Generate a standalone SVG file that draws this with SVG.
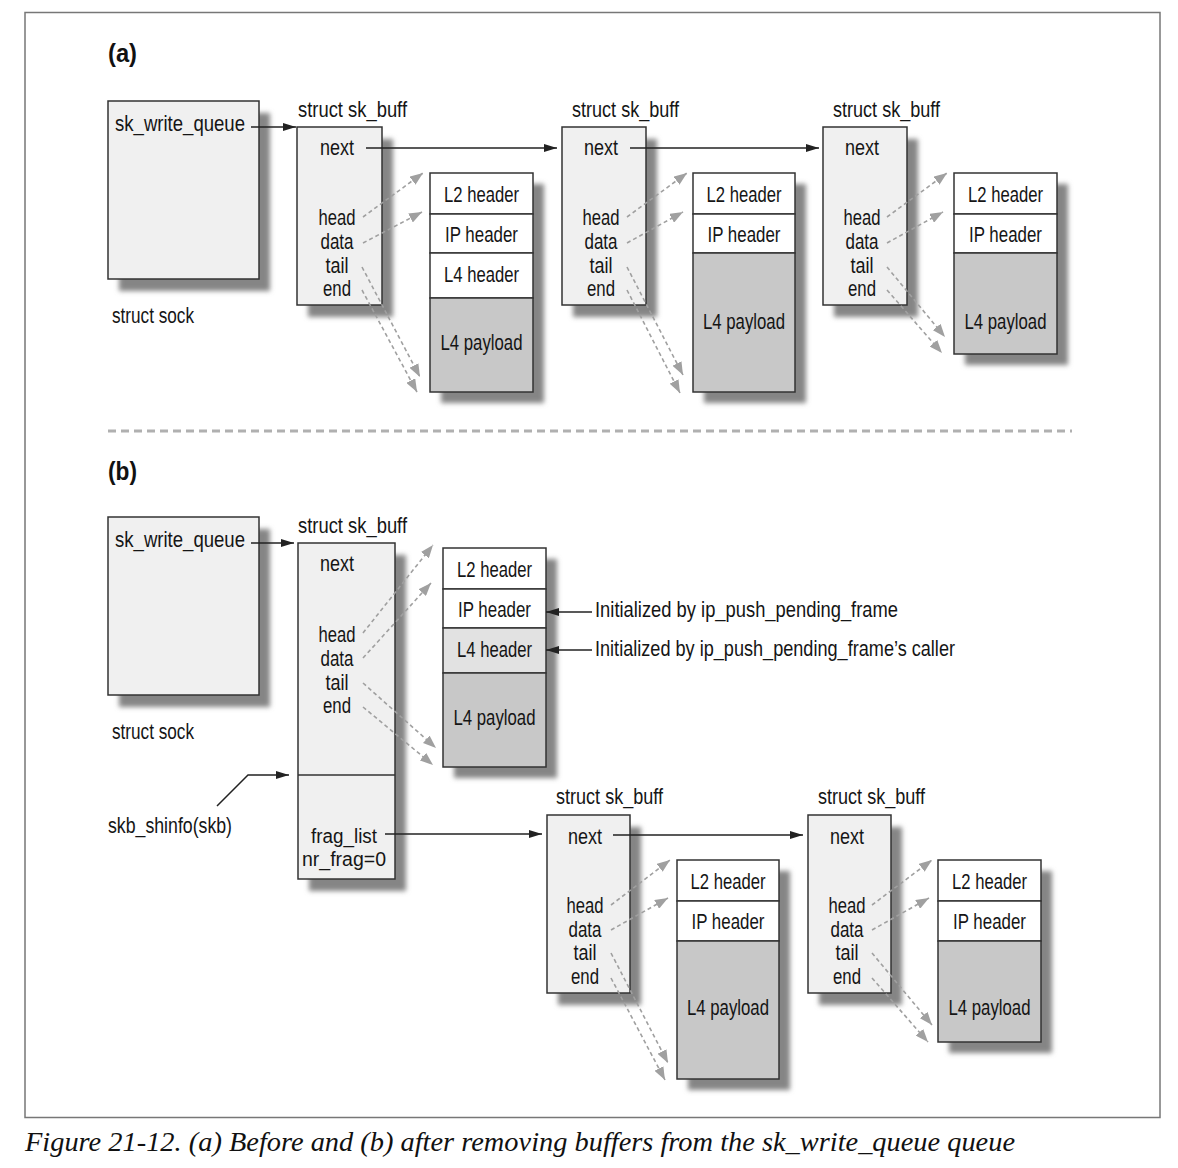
<svg xmlns="http://www.w3.org/2000/svg" width="1178" height="1168" viewBox="0 0 1178 1168">
<defs>
<style>
.t{font-family:"Liberation Sans",Arial,sans-serif;font-size:22.5px;fill:#151515;text-anchor:middle}
.l{font-family:"Liberation Sans",Arial,sans-serif;font-size:22.5px;fill:#151515;text-anchor:start}
.s{font-size:20px}
.box{fill:#f0f0f0;stroke:#333;stroke-width:1.5}
.cell{fill:#fff;stroke:#333;stroke-width:1.5}
.pay{fill:#c8c8c8;stroke:#333;stroke-width:1.5}
.l4{fill:#e2e2e2;stroke:#333;stroke-width:1.5}
.sh{fill:#858585;filter:url(#blur)}
.arr{fill:none;stroke:#222;stroke-width:1.5;marker-end:url(#ab)}
.darr{fill:none;stroke:#a0a0a0;stroke-width:1.6;stroke-dasharray:4 3;marker-end:url(#ag)}
</style>
<filter id="blur" x="-30%" y="-30%" width="160%" height="160%"><feGaussianBlur stdDeviation="2.8"/></filter>
<marker id="ab" viewBox="0 0 13 8" refX="13" refY="4" markerWidth="13" markerHeight="8" markerUnits="userSpaceOnUse" orient="auto"><path d="M0,0 L13,4 L0,8 z" fill="#222"/></marker>
<marker id="ag" viewBox="0 0 13 10" refX="13" refY="5" markerWidth="13" markerHeight="10" markerUnits="userSpaceOnUse" orient="auto"><path d="M0,0 L13,5 L0,10 z" fill="#a0a0a0"/></marker>
</defs>
<rect x="0" y="0" width="1178" height="1168" fill="#fff"/>
<rect x="25" y="12.5" width="1135" height="1105" fill="none" stroke="#777" stroke-width="1.5"/>
<text x="108" y="62" style="font-family:'Liberation Sans',Arial,sans-serif;font-size:26px;font-weight:bold;fill:#111" textLength="29" lengthAdjust="spacingAndGlyphs">(a)</text>
<text x="108" y="480" style="font-family:'Liberation Sans',Arial,sans-serif;font-size:26px;font-weight:bold;fill:#111" textLength="29" lengthAdjust="spacingAndGlyphs">(b)</text>
<line x1="108" y1="431" x2="1072" y2="431" stroke="#b0b0b0" stroke-width="3" stroke-dasharray="8 5"/>

<!-- (a) -->
<g id="sock-a">
<rect class="sh" x="119" y="113" width="151" height="178"/>
<rect class="box" x="108" y="101" width="151" height="178"/>
<text class="l" x="115" y="131" textLength="130" lengthAdjust="spacingAndGlyphs">sk_write_queue</text>
<text class="l" x="112" y="323" textLength="82" lengthAdjust="spacingAndGlyphs">struct sock</text>
</g>
<g id="skb-a1">
<text class="l" x="298" y="116.5" textLength="109" lengthAdjust="spacingAndGlyphs">struct sk_buff</text>
<rect class="sh" x="308" y="139" width="85" height="178"/>
<rect class="box" x="297" y="127" width="85" height="178"/>
<text class="t" x="337" y="155" textLength="34" lengthAdjust="spacingAndGlyphs">next</text>
<text class="t" x="337" y="225" textLength="37" lengthAdjust="spacingAndGlyphs">head</text>
<text class="t" x="337" y="249" textLength="33" lengthAdjust="spacingAndGlyphs">data</text>
<text class="t" x="337" y="273" textLength="23" lengthAdjust="spacingAndGlyphs">tail</text>
<text class="t" x="337" y="296" textLength="28" lengthAdjust="spacingAndGlyphs">end</text>
</g>
<g id="buf-a1">
<rect class="sh" x="441" y="184" width="103" height="219"/>
<rect class="cell" x="430" y="173" width="103" height="41"/>
<rect class="cell" x="430" y="214" width="103" height="39"/>
<rect class="cell" x="430" y="253" width="103" height="45"/>
<rect class="pay" x="430" y="298" width="103" height="94"/>
<text class="t" x="481.5" y="201.7" textLength="75" lengthAdjust="spacingAndGlyphs">L2 header</text>
<text class="t" x="481.5" y="241.7" textLength="73" lengthAdjust="spacingAndGlyphs">IP header</text>
<text class="t" x="481.5" y="281.7" textLength="75" lengthAdjust="spacingAndGlyphs">L4 header</text>
<text class="t" x="481.5" y="350" textLength="82" lengthAdjust="spacingAndGlyphs">L4 payload</text>
</g>
<g id="skb-a2">
<text class="l" x="572" y="116.5" textLength="107" lengthAdjust="spacingAndGlyphs">struct sk_buff</text>
<rect class="sh" x="573" y="139" width="84" height="178"/>
<rect class="box" x="562" y="127" width="84" height="178"/>
<text class="t" x="601" y="155" textLength="34" lengthAdjust="spacingAndGlyphs">next</text>
<text class="t" x="601" y="225" textLength="37" lengthAdjust="spacingAndGlyphs">head</text>
<text class="t" x="601" y="249" textLength="33" lengthAdjust="spacingAndGlyphs">data</text>
<text class="t" x="601" y="273" textLength="23" lengthAdjust="spacingAndGlyphs">tail</text>
<text class="t" x="601" y="296" textLength="28" lengthAdjust="spacingAndGlyphs">end</text>
</g>
<g id="buf-a2">
<rect class="sh" x="704" y="184" width="102" height="219"/>
<rect class="cell" x="693" y="173" width="102" height="41"/>
<rect class="cell" x="693" y="214" width="102" height="39"/>
<rect class="pay" x="693" y="253" width="102" height="139"/>
<text class="t" x="744" y="201.7" textLength="75" lengthAdjust="spacingAndGlyphs">L2 header</text>
<text class="t" x="744" y="241.7" textLength="73" lengthAdjust="spacingAndGlyphs">IP header</text>
<text class="t" x="744" y="329" textLength="82" lengthAdjust="spacingAndGlyphs">L4 payload</text>
</g>
<g id="skb-a3">
<text class="l" x="833" y="116.5" textLength="107" lengthAdjust="spacingAndGlyphs">struct sk_buff</text>
<rect class="sh" x="834" y="139" width="84" height="178"/>
<rect class="box" x="823" y="127" width="84" height="178"/>
<text class="t" x="862" y="155" textLength="34" lengthAdjust="spacingAndGlyphs">next</text>
<text class="t" x="862" y="225" textLength="37" lengthAdjust="spacingAndGlyphs">head</text>
<text class="t" x="862" y="249" textLength="33" lengthAdjust="spacingAndGlyphs">data</text>
<text class="t" x="862" y="273" textLength="23" lengthAdjust="spacingAndGlyphs">tail</text>
<text class="t" x="862" y="296" textLength="28" lengthAdjust="spacingAndGlyphs">end</text>
</g>
<g id="buf-a3">
<rect class="sh" x="965" y="184" width="103" height="181"/>
<rect class="cell" x="954" y="173" width="103" height="41"/>
<rect class="cell" x="954" y="214" width="103" height="39"/>
<rect class="pay" x="954" y="253" width="103" height="101"/>
<text class="t" x="1005.5" y="201.7" textLength="75" lengthAdjust="spacingAndGlyphs">L2 header</text>
<text class="t" x="1005.5" y="241.7" textLength="73" lengthAdjust="spacingAndGlyphs">IP header</text>
<text class="t" x="1005.5" y="329" textLength="82" lengthAdjust="spacingAndGlyphs">L4 payload</text>
</g>

<!-- (b) -->
<g id="sock-b">
<rect class="sh" x="119" y="529" width="151" height="178"/>
<rect class="box" x="108" y="517" width="151" height="178"/>
<text class="l" x="115" y="547" textLength="130" lengthAdjust="spacingAndGlyphs">sk_write_queue</text>
<text class="l" x="112" y="738.5" textLength="82" lengthAdjust="spacingAndGlyphs">struct sock</text>
</g>
<g id="skb-b1">
<text class="l" x="298" y="532.5" textLength="109" lengthAdjust="spacingAndGlyphs">struct sk_buff</text>
<rect class="sh" x="309" y="555" width="97" height="336"/>
<rect class="box" x="298" y="543" width="97" height="336"/>
<line x1="298" y1="775" x2="395" y2="775" stroke="#333" stroke-width="1.5"/>
<text class="t" x="337" y="571" textLength="34" lengthAdjust="spacingAndGlyphs">next</text>
<text class="t" x="337" y="642" textLength="37" lengthAdjust="spacingAndGlyphs">head</text>
<text class="t" x="337" y="666" textLength="33" lengthAdjust="spacingAndGlyphs">data</text>
<text class="t" x="337" y="689.5" textLength="23" lengthAdjust="spacingAndGlyphs">tail</text>
<text class="t" x="337" y="713" textLength="28" lengthAdjust="spacingAndGlyphs">end</text>
<text class="t s" x="344" y="842.5" textLength="66" lengthAdjust="spacingAndGlyphs">frag_list</text>
<text class="t s" x="344" y="866" textLength="84" lengthAdjust="spacingAndGlyphs">nr_frag=0</text>
</g>
<g id="buf-b1">
<rect class="sh" x="454" y="559" width="103" height="219"/>
<rect class="cell" x="443" y="548" width="103" height="41"/>
<rect class="cell" x="443" y="589" width="103" height="39"/>
<rect class="l4" x="443" y="628" width="103" height="45"/>
<rect class="pay" x="443" y="673" width="103" height="94"/>
<text class="t" x="494.5" y="576.7" textLength="75" lengthAdjust="spacingAndGlyphs">L2 header</text>
<text class="t" x="494.5" y="616.7" textLength="73" lengthAdjust="spacingAndGlyphs">IP header</text>
<text class="t" x="494.5" y="656.7" textLength="75" lengthAdjust="spacingAndGlyphs">L4 header</text>
<text class="t" x="494.5" y="725" textLength="82" lengthAdjust="spacingAndGlyphs">L4 payload</text>
</g>
<g id="note-ip">
<text class="l" x="595" y="617.3" textLength="303" lengthAdjust="spacingAndGlyphs">Initialized by ip_push_pending_frame</text>
</g>
<g id="note-caller">
<text class="l" x="595" y="655.5" textLength="360" lengthAdjust="spacingAndGlyphs">Initialized by ip_push_pending_frame’s caller</text>
</g>
<g id="shinfo">
<text class="l" x="108" y="832.5" textLength="124" lengthAdjust="spacingAndGlyphs">skb_shinfo(skb)</text>
</g>
<g id="skb-b2">
<text class="l" x="556" y="803.5" textLength="107" lengthAdjust="spacingAndGlyphs">struct sk_buff</text>
<rect class="sh" x="558" y="827" width="83" height="178"/>
<rect class="box" x="547" y="815" width="83" height="178"/>
<text class="t" x="585" y="843.5" textLength="34" lengthAdjust="spacingAndGlyphs">next</text>
<text class="t" x="585" y="912.5" textLength="37" lengthAdjust="spacingAndGlyphs">head</text>
<text class="t" x="585" y="936.7" textLength="33" lengthAdjust="spacingAndGlyphs">data</text>
<text class="t" x="585" y="960" textLength="23" lengthAdjust="spacingAndGlyphs">tail</text>
<text class="t" x="585" y="983.5" textLength="28" lengthAdjust="spacingAndGlyphs">end</text>
</g>
<g id="buf-b2">
<rect class="sh" x="688" y="871" width="102" height="219"/>
<rect class="cell" x="677" y="860" width="102" height="41"/>
<rect class="cell" x="677" y="901" width="102" height="40"/>
<rect class="pay" x="677" y="941" width="102" height="138"/>
<text class="t" x="728" y="888.5" textLength="75" lengthAdjust="spacingAndGlyphs">L2 header</text>
<text class="t" x="728" y="928.5" textLength="73" lengthAdjust="spacingAndGlyphs">IP header</text>
<text class="t" x="728" y="1015" textLength="82" lengthAdjust="spacingAndGlyphs">L4 payload</text>
</g>
<g id="skb-b3">
<text class="l" x="818" y="803.5" textLength="107" lengthAdjust="spacingAndGlyphs">struct sk_buff</text>
<rect class="sh" x="819" y="827" width="83" height="178"/>
<rect class="box" x="808" y="815" width="83" height="178"/>
<text class="t" x="847" y="843.5" textLength="34" lengthAdjust="spacingAndGlyphs">next</text>
<text class="t" x="847" y="912.5" textLength="37" lengthAdjust="spacingAndGlyphs">head</text>
<text class="t" x="847" y="936.7" textLength="33" lengthAdjust="spacingAndGlyphs">data</text>
<text class="t" x="847" y="960" textLength="23" lengthAdjust="spacingAndGlyphs">tail</text>
<text class="t" x="847" y="983.5" textLength="28" lengthAdjust="spacingAndGlyphs">end</text>
</g>
<g id="buf-b3">
<rect class="sh" x="949" y="871" width="103" height="182"/>
<rect class="cell" x="938" y="860" width="103" height="41"/>
<rect class="cell" x="938" y="901" width="103" height="40"/>
<rect class="pay" x="938" y="941" width="103" height="101"/>
<text class="t" x="989.5" y="888.5" textLength="75" lengthAdjust="spacingAndGlyphs">L2 header</text>
<text class="t" x="989.5" y="928.5" textLength="73" lengthAdjust="spacingAndGlyphs">IP header</text>
<text class="t" x="989.5" y="1015" textLength="82" lengthAdjust="spacingAndGlyphs">L4 payload</text>
</g>

<g id="connectors">
<path class="arr" d="M251,127 H296"/>
<path class="arr" d="M366,148 H557"/>
<path class="arr" d="M630,148 H819"/>
<path class="darr" d="M363,217 L423,173"/>
<path class="darr" d="M363,243 L422,212"/>
<path class="darr" d="M362,267 L420,377"/>
<path class="darr" d="M362,290 L417,392"/>
<path class="darr" d="M627,217 L687,173"/>
<path class="darr" d="M627,243 L683,212"/>
<path class="darr" d="M627,267 L683,375"/>
<path class="darr" d="M627,290 L680,393"/>
<path class="darr" d="M887,217 L947,173"/>
<path class="darr" d="M887,243 L943,212"/>
<path class="darr" d="M887,267 L945,337"/>
<path class="darr" d="M887,290 L942,353"/>
<path class="arr" d="M251,543 H294"/>
<path class="arr" d="M385,834 H542"/>
<path class="arr" d="M613,835 H803"/>
<path class="arr" d="M217,806 L248,775 H289"/>
<path class="arr" d="M592,612 H546"/>
<path class="arr" d="M592,650 H546"/>
<path class="darr" d="M363,633 L433,545"/>
<path class="darr" d="M363,658 L431,583"/>
<path class="darr" d="M363,683 L436,748"/>
<path class="darr" d="M363,707 L433,765"/>
<path class="darr" d="M611,905 L670,860"/>
<path class="darr" d="M611,930 L668,898"/>
<path class="darr" d="M611,953 L668,1063"/>
<path class="darr" d="M611,978 L665,1080"/>
<path class="darr" d="M872,905 L932,860"/>
<path class="darr" d="M872,930 L929,898"/>
<path class="darr" d="M872,953 L932,1025"/>
<path class="darr" d="M872,978 L928,1042"/>
</g>

<text x="25" y="1151" style="font-family:'Liberation Serif','Times New Roman',serif;font-size:28px;font-style:italic;fill:#111" textLength="990" lengthAdjust="spacingAndGlyphs">Figure 21-12. (a) Before and (b) after removing buffers from the sk_write_queue queue</text>
</svg>
